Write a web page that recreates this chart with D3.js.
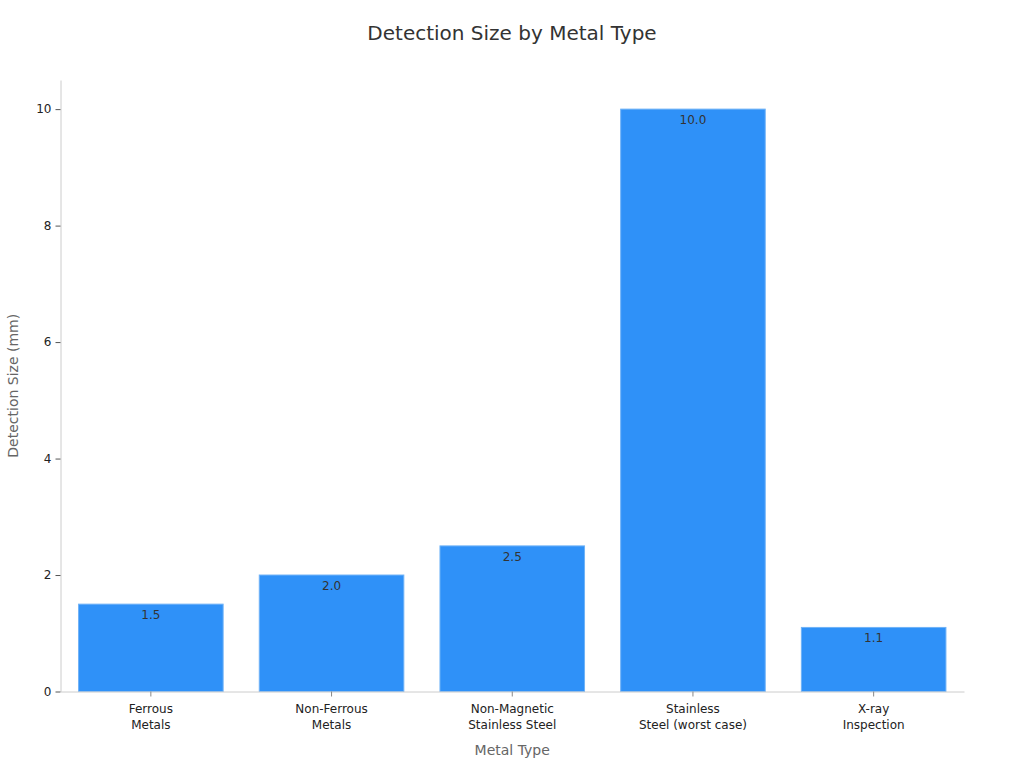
<!DOCTYPE html>
<html>
<head>
<meta charset="utf-8">
<script src="https://cdn.jsdelivr.net/npm/d3@7"></script>
<style>
  body { margin: 0; background: #fff; }
  text { font-family: "DejaVu Sans", sans-serif; }
</style>
</head>
<body>
<script>
// data
var categories = ["Ferrous\nMetals", "Non-Ferrous\nMetals", "Non-Magnetic\nStainless Steel", "Stainless\nSteel (worst case)", "X-ray\nInspection"];
var sizes = [1.5, 2.0, 2.5, 10.0, 1.1];
var yTicks = [0, 2, 4, 6, 8, 10];

var W = 1024, H = 768;
var plotLeft = 60.5, plotRight = 964, plotTop = 80, plotBottom = 691.5;

var svg = d3.select("body").append("svg")
    .attr("width", W)
    .attr("height", H);

var xScale = d3.scaleBand().domain(categories).range([plotLeft, plotRight]).paddingInner(0.2).paddingOuter(0.1);
var yScale = d3.scaleLinear().domain([0, 10.5]).range([plotBottom, plotTop]);

// title
svg.append("text")
    .attr("x", 512).attr("y", 40)
    .attr("text-anchor", "middle")
    .attr("font-size", 20)
    .attr("fill", "#333")
    .text("Detection Size by Metal Type");

// bars
svg.selectAll(".bar").data(sizes).enter().append("rect")
    .attr("class", "bar")
    .attr("x", function(d, i) { return xScale(categories[i]); })
    .attr("y", function(d) { return yScale(d); })
    .attr("width", xScale.bandwidth())
    .attr("height", function(d) { return plotBottom - yScale(d); })
    .attr("fill", "#2f91f8")
    .attr("stroke", "#6fb2f7")
    .attr("stroke-width", 1);

// value labels
svg.selectAll(".val").data(sizes).enter().append("text")
    .attr("class", "val")
    .attr("x", function(d, i) { return xScale(categories[i]) + xScale.bandwidth() / 2; })
    .attr("y", function(d) { return yScale(d) + 15; })
    .attr("text-anchor", "middle")
    .attr("font-size", 12)
    .attr("fill", "#333")
    .text(function(d) { return d.toFixed(1); });

// y axis
var yAxis = svg.append("g")
    .attr("transform", `translate(${plotLeft},0)`)
    .call(d3.axisLeft(yScale).tickValues(yTicks).tickSize(5).tickSizeOuter(0).tickPadding(4));
yAxis.select(".domain").attr("stroke", "#ccc");
yAxis.selectAll(".tick line").attr("stroke", "#555");
yAxis.selectAll(".tick text").attr("font-size", 12).attr("fill", "#222").attr("font-family", "DejaVu Sans, sans-serif");

// x axis
var xAxis = svg.append("g")
    .attr("transform", `translate(0,${plotBottom})`)
    .call(d3.axisBottom(xScale).tickSize(5).tickSizeOuter(0).tickPadding(8));
xAxis.select(".domain").attr("stroke", "#ccc");
xAxis.selectAll(".tick line").attr("stroke", "#888");
xAxis.selectAll(".tick text").each(function(d) {
    var t = d3.select(this).text("").attr("font-size", 12).attr("fill", "#222").attr("font-family", "DejaVu Sans, sans-serif");
    d.split("\n").forEach(function(line, k) {
        t.append("tspan").attr("x", 0).attr("dy", k === 0 ? "0.71em" : "1.3em").text(line);
    });
});

// axis titles
svg.append("text")
    .attr("x", (plotLeft + plotRight) / 2).attr("y", 755)
    .attr("text-anchor", "middle")
    .attr("font-size", 14)
    .attr("fill", "#666")
    .text("Metal Type");

svg.append("text")
    .attr("transform", `translate(18,${(plotTop + plotBottom) / 2}) rotate(-90)`)
    .attr("text-anchor", "middle")
    .attr("font-size", 14)
    .attr("fill", "#666")
    .text("Detection Size (mm)");
</script>
</body>
</html>
